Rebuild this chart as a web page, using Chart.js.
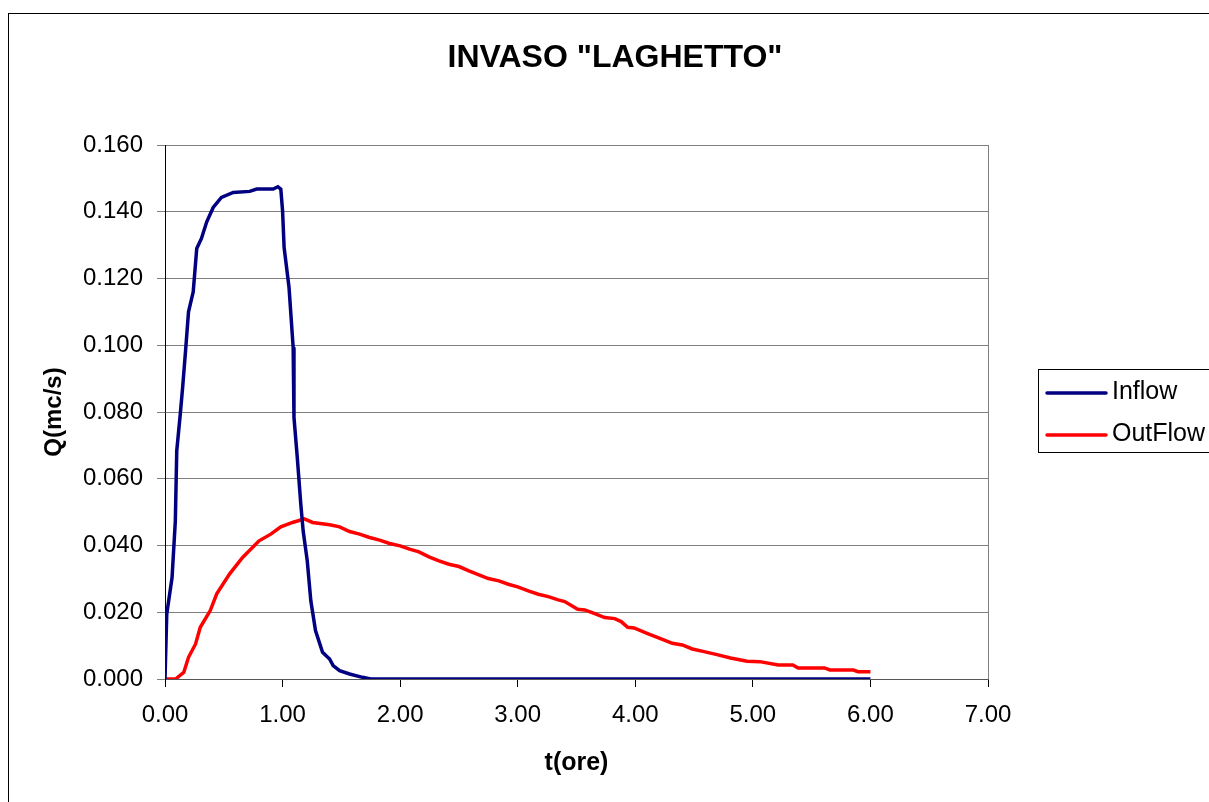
<!DOCTYPE html>
<html>
<head>
<meta charset="utf-8">
<title>INVASO "LAGHETTO"</title>
<script src="https://cdn.jsdelivr.net/npm/chart.js@4.4.1/dist/chart.umd.min.js"></script>
<style>
  body { margin: 0; background: #fff; }
  canvas { display: block; }
</style>
</head>
<body>
<canvas id="invaso-chart" width="1209" height="802"></canvas>
<script>
// Inflow hydrograph (t in hours, Q in mc/s)
const inflowT = [0, 0.015, 0.06, 0.088, 0.10, 0.13, 0.15, 0.175, 0.20, 0.24, 0.27, 0.31, 0.355, 0.41, 0.48, 0.58, 0.72, 0.78, 0.92, 0.96, 0.985, 1.0, 1.013, 1.055, 1.09, 1.097, 1.125, 1.155, 1.175, 1.21, 1.24, 1.28, 1.34, 1.40, 1.43, 1.485, 1.57, 1.68, 1.75, 6.0];
const inflowQ = [0, 0.0195, 0.0304, 0.0474, 0.0684, 0.0794, 0.0874, 0.0984, 0.110, 0.116, 0.129, 0.132, 0.137, 0.1413, 0.1443, 0.1458, 0.1461, 0.1468, 0.1468, 0.1475, 0.1468, 0.1403, 0.1293, 0.1173, 0.0994, 0.0784, 0.0664, 0.0524, 0.0444, 0.0354, 0.0235, 0.0145, 0.008, 0.006, 0.004, 0.0025, 0.0015, 0.0005, 0, 0];

// Outflow from the reservoir
const outflowT = [0, 0.09, 0.16, 0.20, 0.26, 0.30, 0.385, 0.44, 0.55, 0.66, 0.80, 0.90, 0.985, 1.085, 1.185, 1.255, 1.40, 1.485, 1.57, 1.655, 1.74, 1.825, 1.91, 2.0, 2.08, 2.16, 2.245, 2.33, 2.415, 2.50, 2.585, 2.67, 2.75, 2.84, 2.92, 3.0, 3.09, 3.175, 3.26, 3.345, 3.40, 3.51, 3.57, 3.655, 3.74, 3.825, 3.88, 3.935, 3.99, 4.10, 4.22, 4.315, 4.40, 4.485, 4.585, 4.695, 4.81, 4.95, 5.06, 5.215, 5.34, 5.385, 5.61, 5.655, 5.855, 5.895, 6.0];
const outflowQ = [0, 0, 0.002, 0.0065, 0.0105, 0.0155, 0.0205, 0.0255, 0.0315, 0.0364, 0.0414, 0.0434, 0.0456, 0.0469, 0.048, 0.0469, 0.0462, 0.0456, 0.0442, 0.0434, 0.0424, 0.0416, 0.0406, 0.0399, 0.0389, 0.0381, 0.0366, 0.0354, 0.0344, 0.0337, 0.0324, 0.0312, 0.0301, 0.0294, 0.0284, 0.0276, 0.0264, 0.0254, 0.0247, 0.0237, 0.0232, 0.0209, 0.0207, 0.0196, 0.0184, 0.0181, 0.0172, 0.0155, 0.0153, 0.0137, 0.0120, 0.0107, 0.0102, 0.0090, 0.0082, 0.0073, 0.0063, 0.0053, 0.0052, 0.0042, 0.0042, 0.0033, 0.0033, 0.0027, 0.0027, 0.0022, 0.0022];

const chartTitle = 'INVASO "LAGHETTO"';
const xTitle = 't(ore)';
const yTitle = 'Q(mc/s)';
const seriesNames = ['Inflow', 'OutFlow'];

const FONT = '"Liberation Sans", Arial, sans-serif';

function toPoints(ts, qs) {
  return ts.map((t, i) => ({ x: t, y: qs[i] }));
}

// Frame, title, plot border and boxed legend like the Excel original
const excelDecor = {
  id: 'excelDecor',
  beforeDraw(chart) {
    const ctx = chart.ctx;
    ctx.save();
    ctx.fillStyle = '#fff';
    ctx.fillRect(0, 0, chart.width, chart.height);
    ctx.strokeStyle = '#000';
    ctx.lineWidth = 1;
    ctx.strokeRect(8.5, 13.5, 1400, 1000);

    ctx.fillStyle = '#000';
    ctx.font = 'bold 32px ' + FONT;
    ctx.textAlign = 'center';
    ctx.textBaseline = 'alphabetic';
    ctx.fillText(chartTitle, 615, 67);
    ctx.restore();
  },
  beforeDatasetsDraw(chart) {
    const ctx = chart.ctx;
    const a = chart.chartArea;
    ctx.save();
    ctx.strokeStyle = '#808080';
    ctx.lineWidth = 1;
    ctx.beginPath();
    ctx.moveTo(Math.round(a.right) + 0.5, a.top);
    ctx.lineTo(Math.round(a.right) + 0.5, a.bottom);
    ctx.stroke();
    ctx.restore();
  },
  afterDraw(chart) {
    const ctx = chart.ctx;
    ctx.save();
    ctx.strokeStyle = '#000';
    ctx.lineWidth = 1;
    ctx.strokeRect(1038.5, 369.5, 300, 83);
    const rows = [393, 435];
    const bases = [399, 441];
    ctx.font = '25px ' + FONT;
    ctx.textAlign = 'left';
    ctx.textBaseline = 'alphabetic';
    chart.data.datasets.forEach((ds, i) => {
      ctx.strokeStyle = ds.borderColor;
      ctx.lineWidth = 3.5;
      ctx.lineCap = 'round';
      ctx.beginPath();
      ctx.moveTo(1047, rows[i]);
      ctx.lineTo(1106, rows[i]);
      ctx.stroke();
      ctx.fillStyle = '#000';
      ctx.fillText(ds.label, 1112, bases[i]);
    });
    ctx.restore();
  }
};

function initInvasoChart() {
  const ctx = document.getElementById('invaso-chart').getContext('2d');

  new Chart(ctx, {
    type: 'line',
    data: {
      datasets: [{
        label: seriesNames[0],
        data: toPoints(inflowT, inflowQ),
        borderColor: '#000080',
        borderWidth: 3.5,
        pointRadius: 0,
        tension: 0,
        fill: false
      }, {
        label: seriesNames[1],
        data: toPoints(outflowT, outflowQ),
        borderColor: '#ff0000',
        borderWidth: 3.5,
        pointRadius: 0,
        tension: 0,
        fill: false
      }]
    },
    options: {
      responsive: false,
      animation: false,
      devicePixelRatio: 1,
      layout: { padding: { left: 0, top: 145, right: 221, bottom: 0 } },
      plugins: {
        legend: { display: false },
        title: { display: false },
        tooltip: { enabled: false }
      },
      scales: {
        x: {
          type: 'linear',
          min: 0,
          max: 7,
          afterFit: (s) => { s.height = 123; },
          ticks: {
            stepSize: 1,
            color: '#000',
            padding: 14,
            font: { family: FONT, size: 24 },
            callback: (v) => v.toFixed(2)
          },
          grid: {
            drawOnChartArea: false,
            drawTicks: true,
            tickLength: 8,
            tickColor: '#000'
          },
          border: { color: '#555', width: 1 },
          title: {
            display: true,
            text: xTitle,
            color: '#000',
            font: { family: FONT, size: 25, weight: 'bold' },
            padding: { top: 0, bottom: 24 }
          }
        },
        y: {
          min: 0,
          max: 0.16,
          afterFit: (s) => { s.width = 165; },
          ticks: {
            stepSize: 0.02,
            color: '#000',
            padding: 14,
            font: { family: FONT, size: 24 },
            callback: (v) => v.toFixed(3)
          },
          grid: {
            color: '#808080',
            tickColor: '#808080',
            tickLength: 8,
            lineWidth: 1
          },
          border: { color: '#000', width: 1 },
          title: {
            display: true,
            text: yTitle,
            color: '#000',
            font: { family: FONT, size: 24, weight: 'bold' },
            padding: { top: 40, bottom: 0 }
          }
        }
      }
    },
    plugins: [excelDecor]
  });
}

initInvasoChart();
</script>
</body>
</html>
